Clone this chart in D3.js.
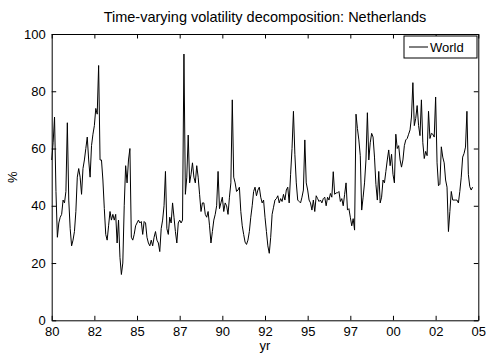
<!DOCTYPE html>
<html>
<head>
<meta charset="utf-8">
<script src="https://cdn.jsdelivr.net/npm/d3@7"></script>
<style>
  html, body { margin: 0; padding: 0; background: #fff; }
  svg { display: block; font-family: "Liberation Sans", Arial, Helvetica, sans-serif; }
</style>
</head>
<body>
<svg id="chart" width="487" height="353"></svg>
<script>
// Monthly share of volatility explained by the world factor (%), Jan 1980 onward
const startYear = 1980;
const worldShare = [
  56, 62, 71, 45, 29, 34, 36, 37, 42, 41, 45, 69, 42, 32, 26, 28, 31, 38, 50, 53,
  50, 44, 53, 56, 60, 64, 56, 50, 61, 65, 68, 74, 72, 89, 56, 56, 49, 39, 30, 28,
  33, 38, 35, 37, 35, 37, 27, 35, 22, 16, 20,
  40, 54, 48, 56, 60, 29, 28, 30, 33, 34, 35, 34, 34.5, 30, 34.5, 34, 29, 27, 26, 28,
  26, 29, 31, 28, 27, 24, 32, 35, 40, 52, 32, 30, 36, 34, 41, 36, 31, 27, 34, 35,
  34, 35, 93, 44, 50, 64.7, 48, 51, 55, 50, 48,
  54, 50, 44, 38, 41, 41, 37, 36, 38, 33, 27, 31, 35, 37, 40, 52, 39, 41, 43, 38,
  41, 40, 37, 43, 48, 77, 50, 48, 45, 45.5, 46.5, 38, 33, 30, 27.3, 26.5, 28, 31, 36, 40,
  45, 46.5, 43.5, 45.5, 46.5, 43, 41, 42, 36, 31,
  26, 23.4, 29, 37, 39.5, 42, 42.5, 43.5, 41, 42.5, 41.5, 44, 42, 45.5, 46.5, 41, 51, 60, 73, 58,
  48, 42, 41.5, 41, 43, 45.5, 63, 48, 45.5, 42, 41, 38.5, 42, 38, 43.5, 42.5, 41.5, 42, 41, 42.5,
  43, 40, 43, 42, 44.3, 43, 51.9, 44, 44.5, 44.5, 45,
  41.5, 42.5, 40, 44, 48, 38.5, 39, 36, 33, 35.5, 31.5, 72, 67, 63, 57.5, 38.5, 43, 48, 56, 72.5,
  56, 62, 65.3, 64, 57, 47.5, 42, 52, 41, 43, 49, 48, 52, 56, 59.5, 54, 58, 51, 48, 65,
  60, 61, 56, 53.5, 56, 61, 63, 63.5, 65, 66.5, 71,
  83, 68, 70.5, 75, 68, 64.5, 77, 62, 56.5, 59, 57.5, 73, 63.5, 65.3, 65, 64, 78, 55, 47, 47.5,
  60.6, 57, 55, 49, 46.5, 31, 38, 45, 42, 42, 42, 42, 41, 45, 50, 57, 58.3, 60.5, 73, 51,
  46.7, 45.5, 46.5
];
const xTickValues = [1980, 1982.5, 1985, 1987.5, 1990, 1992.5, 1995, 1997.5, 2000, 2002.5, 2005];
const xTickLabels = ["80", "82", "85", "87", "90", "92", "95", "97", "00", "02", "05"];
const yTickValues = [0, 20, 40, 60, 80, 100];
const seriesName = "World";
const titleText = "Time-varying volatility decomposition: Netherlands";

const svg = d3.select("#chart");
const plot = { left: 51.7, right: 478.3, top: 34, bottom: 320.3 };
const tickLen = 4.5;

const x = d3.scaleLinear().domain([1980, 2005]).range([plot.left, plot.right]);
const y = d3.scaleLinear().domain([0, 100]).range([plot.bottom, plot.top]);

const points = worldShare.map((v, i) => ({ t: startYear + i / 12, v }));

// series
svg.append("path")
  .datum(points)
  .attr("fill", "none")
  .attr("stroke", "#000")
  .attr("stroke-width", 1)
  .attr("stroke-linejoin", "round")
  .attr("d", d3.line().x(d => x(d.t)).y(d => y(d.v)));

// axes with inward ticks on all four sides
const fmtX = (d, i) => xTickLabels[i];
const axisB = svg.append("g").attr("transform", `translate(0,${plot.bottom})`)
  .call(d3.axisBottom(x).tickValues(xTickValues).tickFormat(fmtX).tickSizeInner(-tickLen).tickSizeOuter(0).tickPadding(6.5));
const axisT = svg.append("g").attr("transform", `translate(0,${plot.top})`)
  .call(d3.axisTop(x).tickValues(xTickValues).tickFormat("").tickSizeInner(-tickLen).tickSizeOuter(0));
const axisL = svg.append("g").attr("transform", `translate(${plot.left},0)`)
  .call(d3.axisLeft(y).tickValues(yTickValues).tickFormat(d3.format("d")).tickSizeInner(-tickLen).tickSizeOuter(0).tickPadding(6));
const axisR = svg.append("g").attr("transform", `translate(${plot.right},0)`)
  .call(d3.axisRight(y).tickValues(yTickValues).tickFormat("").tickSizeInner(-tickLen).tickSizeOuter(0));

[axisB, axisT, axisL, axisR].forEach(g => {
  g.select(".domain").attr("stroke", "#000").attr("stroke-width", 1);
  g.selectAll(".tick line").attr("stroke", "#000").attr("stroke-width", 1);
  g.selectAll("text").attr("fill", "#000").style("font-size", "13px")
    .style("font-family", "'Liberation Sans', Arial, Helvetica, sans-serif");
});

// axis labels and title
svg.append("text")
  .attr("x", (plot.left + plot.right) / 2).attr("y", 21.5)
  .attr("text-anchor", "middle").style("font-size", "14.5px").attr("fill", "#000")
  .text(titleText);
svg.append("text")
  .attr("x", (plot.left + plot.right) / 2).attr("y", 349.5)
  .attr("text-anchor", "middle").style("font-size", "13px").attr("fill", "#000")
  .text("yr");
svg.append("text")
  .attr("transform", `translate(17,${(plot.top + plot.bottom) / 2}) rotate(-90)`)
  .attr("text-anchor", "middle").style("font-size", "13px").attr("fill", "#000")
  .text("%");

// legend
const lg = svg.append("g").attr("transform", "translate(404,36)");
lg.append("rect").attr("width", 73).attr("height", 22)
  .attr("fill", "#fff").attr("stroke", "#000").attr("stroke-width", 1);
lg.append("line").attr("x1", 5).attr("x2", 24).attr("y1", 11).attr("y2", 11)
  .attr("stroke", "#000").attr("stroke-width", 1);
lg.append("text").attr("x", 26).attr("y", 15.5).style("font-size", "13px").attr("fill", "#000")
  .text(seriesName);
</script>
</body>
</html>
